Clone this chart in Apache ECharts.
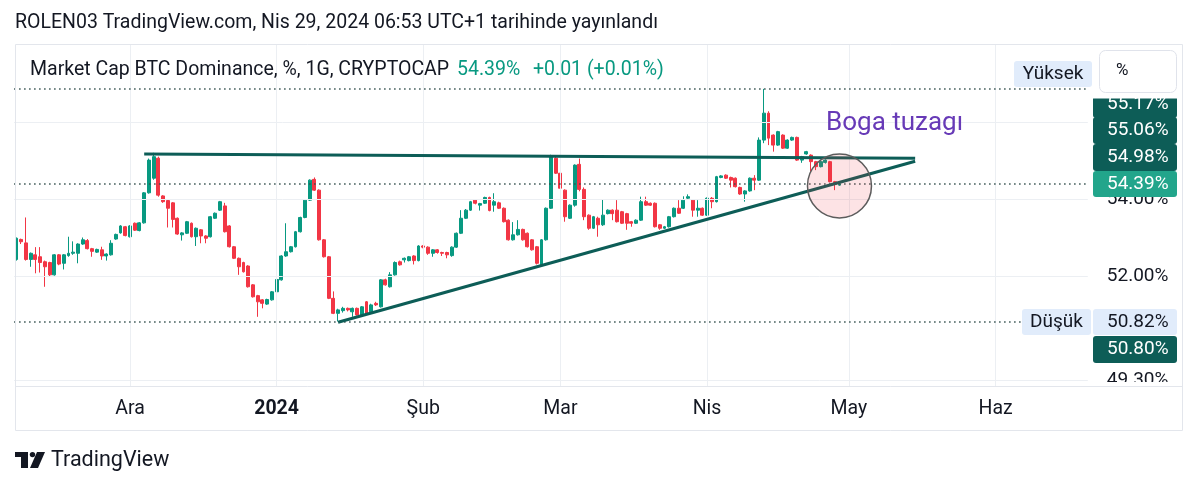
<!DOCTYPE html>
<html><head><meta charset="utf-8">
<script src="https://cdn.jsdelivr.net/npm/echarts@6/dist/echarts.min.js"></script>
<style>html,body{margin:0;padding:0;background:#fff;}#c{width:1200px;height:488px;}</style>
</head><body><div id="c"></div>
<script>
// ---------- DATA ----------
const startDate = [2023, 10, 7];        // 2023-11-07 (first daily candle)
const categoryCount = 227;              // days shown on the time axis (to ~2024-06-20)
const monthNames = ['Oca','Şub','Mar','Nis','May','Haz','Tem','Ağu','Eyl','Eki','Kas','Ara'];

const opens = [
52.43,52.95,52.86,52.43,52.55,52.50,52.37,52.35,52.03,52.55,52.33,52.53,52.59,52.59,52.83,52.92,52.71,52.62,52.68,52.52,52.55,52.96,53.12,53.28,
53.02,53.37,53.18,53.38,54.16,54.54,55.06,54.08,53.96,53.90,53.50,53.07,53.11,53.37,53.02,53.20,53.04,53.02,53.50,53.71,53.82,53.30,52.76,52.46,52.35,52.26,51.77,51.49,51.38,51.27,51.38,
51.59,51.90,52.52,52.63,52.76,53.15,53.52,53.97,54.51,54.23,52.94,52.50,51.42,51.03,51.10,51.16,51.07,51.16,50.99,51.33,51.07,51.29,51.20,51.90,51.72,52.03,52.37,52.42,52.40,52.52,52.40,
52.78,52.75,52.59,52.68,52.61,52.61,52.53,52.75,53.11,53.50,53.71,53.97,53.84,53.89,54.04,53.84,53.90,53.76,53.45,52.94,53.07,53.21,53.11,52.94,52.76,52.29,52.94,
53.76,55.06,54.67,54.23,53.50,53.84,54.90,54.25,53.58,53.24,53.50,53.33,53.62,53.71,53.71,53.67,53.62,53.41,53.37,53.45,53.93,53.89,53.89,53.33,53.24,53.28,53.54,53.76,53.76,54.02,53.97,53.71,53.76,
53.58,54.02,53.93,54.56,54.62,54.56,54.54,54.30,54.13,54.21,54.54,54.49,55.53,56.23,55.66,55.40,55.66,55.32,55.53,55.60,55.01,55.17,55.14,54.97,54.84,54.95,54.97,54.45,54.36
];
const highs = [
53.00,52.97,53.52,52.61,52.75,52.75,52.40,52.37,52.57,52.57,52.57,53.02,52.90,52.85,53.00,52.96,52.73,52.71,52.76,52.59,52.93,53.10,53.32,53.30,
53.32,53.39,53.40,54.18,55.05,55.20,55.10,54.10,53.98,53.92,53.52,53.14,53.43,53.39,53.26,53.22,53.06,53.56,53.65,53.95,53.90,53.32,52.78,52.48,52.37,52.28,51.79,51.51,51.40,51.41,51.61,
51.93,52.54,53.37,52.78,53.17,53.54,53.99,54.51,54.56,54.25,52.96,52.52,51.60,51.15,51.20,51.18,51.18,51.18,51.22,51.35,51.28,51.33,51.92,51.93,52.10,52.38,52.40,52.48,52.52,52.54,52.80,
52.80,52.77,52.70,52.70,52.63,52.63,52.77,53.13,53.71,53.74,53.95,53.99,53.90,54.06,54.06,54.15,53.93,53.78,53.47,53.40,53.45,53.23,53.13,52.96,52.78,52.96,53.78,
55.15,55.12,54.69,54.25,53.86,54.90,55.05,54.30,53.60,53.56,53.54,54.00,53.73,53.73,53.97,53.69,53.64,53.43,53.47,54.06,54.06,53.91,53.91,53.35,53.30,53.56,53.78,53.97,54.07,54.12,53.99,53.97,53.78,
54.04,54.05,54.60,54.62,54.64,54.58,54.56,54.32,54.23,54.56,54.62,55.60,56.86,56.28,55.68,55.77,55.68,55.55,55.62,55.62,55.12,55.25,55.16,54.99,54.99,55.03,54.99,54.47,54.44
];
const lows = [
52.40,52.83,52.40,52.24,52.07,52.09,51.72,52.00,52.01,52.28,52.17,52.50,52.55,52.33,52.81,52.69,52.50,52.60,52.42,52.40,52.53,52.94,53.10,53.03,
53.00,53.17,53.16,53.36,54.14,54.50,54.06,53.90,53.26,53.26,53.07,52.92,53.09,53.00,52.78,52.85,52.85,53.00,53.48,53.69,53.13,52.74,52.44,52.03,52.09,51.70,51.44,50.94,51.16,51.25,51.36,
51.57,51.88,52.50,52.61,52.74,53.13,53.50,53.95,54.21,52.92,52.48,51.40,51.01,50.82,51.05,51.08,50.94,50.97,50.97,51.00,51.05,51.22,51.18,51.75,51.70,52.01,52.27,52.35,52.38,52.30,52.38,
52.72,52.55,52.50,52.58,52.52,52.46,52.50,52.73,53.09,53.48,53.69,53.86,53.70,53.87,53.68,53.67,53.74,53.39,52.92,52.92,53.05,52.92,52.74,52.66,52.30,52.27,52.92,
53.74,54.65,54.26,53.41,53.48,53.80,54.20,53.45,53.20,53.22,53.02,53.30,53.60,53.45,53.39,53.35,53.20,53.28,53.35,53.43,53.82,53.82,53.26,53.20,53.22,53.26,53.52,53.61,53.74,54.00,53.54,53.54,53.56,
53.56,53.76,53.91,54.54,54.52,54.30,54.30,54.11,53.93,54.19,54.23,54.47,55.45,55.40,55.23,55.38,55.30,55.30,55.51,54.99,54.94,55.15,54.71,54.75,54.82,54.92,54.43,54.23,54.34
];
const closes = [
52.98,52.89,52.43,52.59,52.43,52.35,52.24,52.03,52.55,52.31,52.55,52.59,52.62,52.83,52.94,52.71,52.64,52.69,52.52,52.57,52.85,53.08,53.30,53.05,
53.30,53.19,53.38,54.16,55.01,55.10,54.10,53.93,53.76,53.47,53.09,53.12,53.41,53.02,53.24,53.04,52.98,53.54,53.63,53.93,53.15,52.76,52.46,52.24,52.11,51.72,51.46,51.33,51.29,51.39,51.59,
51.91,52.52,52.63,52.76,53.15,53.52,53.97,54.49,54.23,52.94,52.50,51.42,51.03,51.12,51.16,51.12,51.16,50.99,51.20,51.03,51.25,51.25,51.90,51.77,52.03,52.35,52.29,52.46,52.50,52.40,52.78,
52.75,52.59,52.68,52.61,52.59,52.55,52.75,53.11,53.50,53.71,53.93,53.89,53.88,54.04,53.70,53.93,53.76,53.41,52.94,53.07,53.21,52.94,52.76,52.68,52.33,52.94,53.76,
55.10,54.67,54.28,53.54,53.84,54.88,54.25,53.54,53.24,53.54,53.33,53.58,53.71,53.62,53.41,53.37,53.37,53.37,53.45,53.93,53.84,53.84,53.28,53.24,53.28,53.54,53.76,53.63,53.97,54.06,53.71,53.76,53.58,
54.02,53.93,54.58,54.60,54.54,54.49,54.32,54.13,54.21,54.54,54.49,55.53,56.23,55.58,55.40,55.75,55.32,55.53,55.60,55.01,55.10,55.23,54.97,54.84,54.97,55.01,54.45,54.38,54.39
];

const upperTrend = [['2023-12-04', 55.17], ['2024-05-15', 55.06]];
const lowerTrend = [['2024-01-14', 50.80], ['2024-05-15', 54.98]];
const circleMark = [['2024-04-29', 54.34]];
const yTickValues = [49.3, 52, 54, 56];
const titleText = 'ROLEN03 TradingView.com, Nis 29, 2024 06:53 UTC+1 tarihinde yayınlandı';
const symbolText = 'Market Cap BTC Dominance, %, 1G, CRYPTOCAP';
const lastText = '54.39%';
const changeText = '+0.01 (+0.01%)';
const annotationText = 'Boga tuzagı';

// ---------- BUILD ----------
const categories = [];
const t0 = Date.UTC(startDate[0], startDate[1], startDate[2]);
for (let i = 0; i < categoryCount; i++) categories.push(new Date(t0 + i * 86400000).toISOString().slice(0, 10));
const monthStarts = categories.filter(c => c.endsWith('-01'));
const candles = opens.map((o, i) => [o, closes[i], lows[i], highs[i]]);
const maxHigh = Math.max(...highs);
const minLow = Math.min(...lows);
const lastClose = closes[closes.length - 1];
const fmt = v => v.toFixed(2) + '%';

const UP = '#089981', DOWN = '#f23645', TEAL = '#0d5d57', TXT = '#131722';
const FONT = 'Roboto';
const FS = 19;

function box(x, y, w, h, fill, text, color, z, tx, ty) {
  return {
    type: 'group', z: z, children: [
      { type: 'rect', z: z, shape: { x: x, y: y, width: w, height: h, r: 3 }, style: { fill: fill } },
      { type: 'text', z: z + 1, x: tx != null ? tx : x + 14, y: ty != null ? ty : y + h / 2,
        style: { text: text, fill: color, font: FS + 'px ' + FONT, textAlign: tx != null ? 'center' : 'left', textVerticalAlign: 'middle' } }
    ]
  };
}

const chart = echarts.init(document.getElementById('c'));
const option = {
  animation: false,
  backgroundColor: '#ffffff',
  grid: { left: 14.1, right: 112.2, top: 45, bottom: 101 },
  xAxis: {
    type: 'category', data: categories, boundaryGap: true,
    axisLine: { show: false }, axisTick: { show: false }, splitLine: { show: false },
    axisLabel: {
      interval: (i, v) => v.endsWith('-01'),
      margin: 12, fontSize: 19.5, color: TXT, fontFamily: FONT,
      formatter: v => {
        const m = +v.slice(5, 7);
        return m === 1 ? '{b|' + v.slice(0, 4) + '}' : monthNames[m - 1];
      },
      rich: { b: { fontWeight: 'bold', fontSize: 19.5, color: TXT, fontFamily: FONT } }
    }
  },
  yAxis: {
    type: 'value', position: 'right', scale: true,
    min: 54 - 188 / 38.5, max: 54 + 154 / 38.5,
    axisLine: { show: false }, axisTick: { show: false }, splitLine: { show: false },
    axisLabel: { customValues: yTickValues, formatter: v => fmt(v), fontSize: FS, color: TXT, fontFamily: FONT, margin: 19 }
  },
  series: [
    { // grid lines
      type: 'line', data: [], z: 1, silent: true,
      markLine: {
        silent: true, symbol: ['none', 'none'], label: { show: false },
        lineStyle: { color: '#eceff3', width: 1, type: 'solid' },
        data: yTickValues.map(v => ({ yAxis: v })).concat(monthStarts.map(m => ({ xAxis: m })))
      }
    },
    {
      type: 'candlestick', data: candles, z: 2, barWidth: '72%', silent: true,
      itemStyle: { color: UP, color0: DOWN, borderColor: UP, borderColor0: DOWN, borderWidth: 1 }
    },
    { // dotted price lines
      type: 'line', data: [], z: 3, silent: true,
      markLine: {
        silent: true, symbol: ['none', 'none'], label: { show: false },
        lineStyle: { color: '#34504e', width: 1.5, type: [1.5, 3.5] },
        data: [{ yAxis: maxHigh }, { yAxis: lastClose }, { yAxis: minLow }]
      }
    },
    { // trend lines
      type: 'line', data: [], z: 4, silent: true,
      markLine: {
        silent: true, symbol: ['none', 'none'], label: { show: false },
        lineStyle: { color: TEAL, width: 3, type: 'solid' },
        data: [
          [{ coord: upperTrend[0] }, { coord: upperTrend[1] }],
          [{ coord: lowerTrend[0] }, { coord: lowerTrend[1] }]
        ]
      }
    },
    {
      type: 'scatter', data: circleMark, z: 5, silent: true, symbol: 'circle', symbolSize: 64,
      itemStyle: { color: 'rgba(242,54,69,0.14)', borderColor: '#5c5c5c', borderWidth: 1.5, opacity: 1 }
    }
  ],
  graphic: { elements: [
    { type: 'text', x: 15, y: 23, z: 50, style: { text: titleText, fill: TXT, font: '19.5px ' + FONT, textVerticalAlign: 'middle' } },
    { type: 'text', x: 30, y: 70, z: 50, style: { text: symbolText, fill: TXT, font: '19.5px ' + FONT, textVerticalAlign: 'middle' } },
    { type: 'text', x: 457, y: 70, z: 50, style: { text: lastText, fill: UP, font: '19.5px ' + FONT, textVerticalAlign: 'middle' } },
    { type: 'text', x: 533, y: 70, z: 50, style: { text: changeText, fill: UP, font: '19.5px ' + FONT, textVerticalAlign: 'middle' } },
    { type: 'text', x: 826, y: 123, z: 50, style: { text: annotationText, fill: '#673ab7', font: '26px ' + FONT, textVerticalAlign: 'middle' } },

    box(1093, 96, 84, 22, TEAL, fmt(upperTrend[0][1]), '#ffffff', 60, null, 104),
    { type: 'rect', z: 70, shape: { x: 1089, y: 44.5, width: 93.5, height: 54 }, style: { fill: '#ffffff' } },
    box(1093, 117, 84, 27, TEAL, fmt(upperTrend[1][1]), '#ffffff', 62),
    box(1093, 144, 84, 27, TEAL, fmt(lowerTrend[1][1]), '#ffffff', 64),
    box(1093, 171, 84, 26, '#22a58b', fmt(lastClose), '#ffffff', 66),
    box(1093, 309, 84, 26, '#e1ecfb', fmt(minLow), TXT, 66),
    box(1093, 336, 84, 27, TEAL, fmt(lowerTrend[0][1]), '#ffffff', 66),
    box(1014, 61, 78, 26, '#e1ecfb', 'Yüksek', TXT, 72, 1053),
    box(1022, 309, 69, 26, '#e1ecfb', 'Düşük', TXT, 72, 1056.5),
    { type: 'rect', z: 72, shape: { x: 1099.5, y: 50.5, width: 77, height: 42, r: 6 }, style: { fill: '#ffffff', stroke: '#e0e3eb', lineWidth: 1 } },
    { type: 'text', z: 73, x: 1116, y: 71, style: { text: '%', fill: TXT, font: '17px ' + FONT, textVerticalAlign: 'middle' } },

    { type: 'rect', z: 70, shape: { x: 1089, y: 382, width: 93.5, height: 48 }, style: { fill: '#ffffff' } },
    { type: 'rect', z: 80, shape: { x: 15.5, y: 44.5, width: 1167, height: 386 }, style: { fill: 'none', stroke: '#e3e6ec', lineWidth: 1 } },
    { type: 'line', z: 80, shape: { x1: 15.5, y1: 386.5, x2: 1182.5, y2: 386.5 }, style: { stroke: '#e3e6ec', lineWidth: 1 } },

    { type: 'rect', z: 80, shape: { x: 15, y: 452, width: 13, height: 5 }, style: { fill: TXT } },
    { type: 'rect', z: 80, shape: { x: 21, y: 452, width: 7, height: 16 }, style: { fill: TXT } },
    { type: 'circle', z: 80, shape: { cx: 32.5, cy: 454.6, r: 2.7 }, style: { fill: TXT } },
    { type: 'polygon', z: 80, shape: { points: [[37, 452], [45, 452], [38, 468], [30, 468]] }, style: { fill: TXT } },
    { type: 'text', z: 80, x: 51, y: 461, style: { text: 'TradingView', fill: TXT, font: '21.5px ' + FONT, textVerticalAlign: 'middle' } }
  ] }
};
chart.setOption(option);
</script></body></html>
